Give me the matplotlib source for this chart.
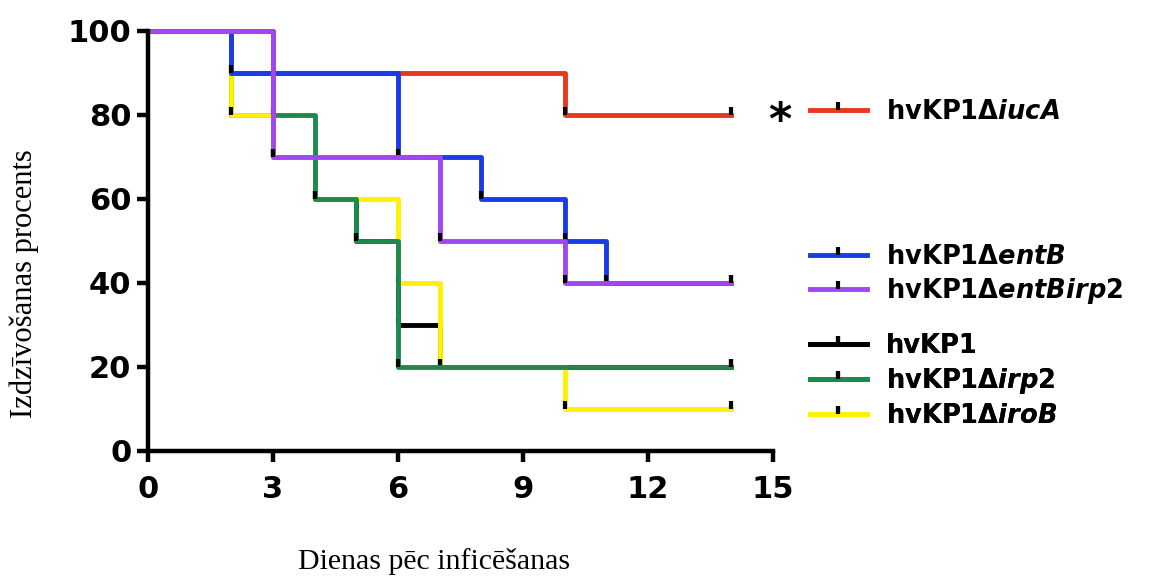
import matplotlib.pyplot as plt
from matplotlib.path import Path

plt.rcParams['font.family'] = 'DejaVu Sans'
plt.rcParams['mathtext.fontset'] = 'custom'
plt.rcParams['mathtext.rm'] = 'DejaVu Sans:bold'
plt.rcParams['mathtext.it'] = 'DejaVu Sans:italic:bold'

# Survival data (days, percent surviving)
days_hvkp1 = [0, 2, 3, 4, 5, 6, 7, 14]
surv_hvkp1 = [100, 80, 70, 60, 50, 30, 20, 20]

days_irob = [0, 2, 3, 4, 6, 7, 10, 14]
surv_irob = [100, 80, 70, 60, 40, 20, 10, 10]

days_irp2 = [0, 3, 4, 5, 6, 14]
surv_irp2 = [100, 80, 60, 50, 20, 20]

days_iuca = [0, 2, 10, 14]
surv_iuca = [100, 90, 80, 80]

days_entb = [0, 2, 6, 8, 10, 11, 14]
surv_entb = [100, 90, 70, 60, 50, 40, 40]

days_entbirp2 = [0, 3, 7, 10, 14]
surv_entbirp2 = [100, 70, 50, 40, 40]

labels = {
    'hvkp1': 'hvKP1',
    'irob': 'hvKP1\u0394$\\mathit{iroB}$',
    'irp2': 'hvKP1\u0394$\\mathit{irp2}$',
    'iuca': 'hvKP1\u0394$\\mathit{iucA}$',
    'entb': 'hvKP1\u0394$\\mathit{entB}$',
    'entbirp2': 'hvKP1\u0394$\\mathit{entBirp2}$',
}
colors = {
    'hvkp1': 'black',
    'irob': '#FFF200',
    'irp2': '#1C8A4E',
    'iuca': '#E8381C',
    'entb': '#1A3BE8',
    'entbirp2': '#A245F2',
}

# drawing order: bottom to top
series = [
    ('hvkp1', days_hvkp1, surv_hvkp1),
    ('irob', days_irob, surv_irob),
    ('irp2', days_irp2, surv_irp2),
    ('iuca', days_iuca, surv_iuca),
    ('entb', days_entb, surv_entb),
    ('entbirp2', days_entbirp2, surv_entbirp2),
]

fig = plt.figure(figsize=(11.54, 5.77), dpi=100)
ax = fig.add_axes([148 / 1154, 1 - 451 / 577, 625 / 1154, 420 / 577])

tick = Path([(0, 0), (0, 1)], [Path.MOVETO, Path.LINETO])

lines = {}
for key, d, s in series:
    ln, = ax.step(d, s, where='post', color=colors[key], lw=3.5,
                  marker=tick, ms=12, mec='black', mew=3,
                  markevery=slice(1, None), clip_on=False)
    lines[key] = ln

ax.set_xlim(0, 15)
ax.set_ylim(0, 100)
ax.set_xticks(range(0, 16, 3))
ax.set_yticks(range(0, 101, 20))
for side in ['top', 'right']:
    ax.spines[side].set_visible(False)
for side in ['left', 'bottom']:
    ax.spines[side].set_linewidth(3.2)
ax.tick_params(width=3.2, length=8, labelsize=22)
ax.tick_params(axis='x', pad=9)
ax.tick_params(axis='y', pad=4)
plt.setp(ax.get_xticklabels(), fontweight='bold')
plt.setp(ax.get_yticklabels(), fontweight='bold')

# legend in three groups
leg_kw = dict(loc='center left', bbox_transform=fig.transFigure, frameon=False,
              prop=dict(weight='bold', size=18.5), handlelength=2.2,
              handletextpad=0.75, borderpad=0, borderaxespad=0, labelspacing=0.27)
groups = [(['iuca'], 1 - 112 / 577), (['entb', 'entbirp2'], 1 - 275 / 577),
          (['hvkp1', 'irp2', 'irob'], 1 - 381 / 577)]
for keys, yc in groups:
    leg = ax.legend([lines[k] for k in keys], [labels[k] for k in keys],
                    bbox_to_anchor=(810 / 1154, yc), **leg_kw)
    ax.add_artist(leg)

fig.text(780 / 1154, 1 - 122 / 577, '*', fontsize=32, fontweight='bold',
         ha='center', va='center')

fig.text(24 / 1154, 1 - 284 / 577, 'Izdzīvošanas procents', rotation=90,
         family='Liberation Serif', size=22, ha='center', va='center')
fig.text(434 / 1154, 1 - 569 / 577, 'Dienas pēc inficēšanas',
         family='Liberation Serif', size=21.5, ha='center', va='baseline')

fig.savefig('out.png', dpi=100)
